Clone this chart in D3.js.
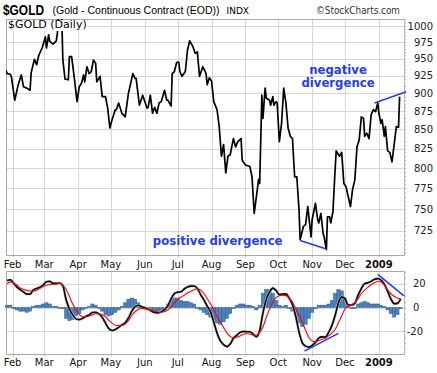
<!DOCTYPE html>
<html>
<head>
<meta charset="utf-8">
<script src="https://cdn.jsdelivr.net/npm/d3@7"></script>
<style>
body { margin: 0; background: #fff; }
svg { display: block; font-family: "DejaVu Sans", Verdana, sans-serif; }
</style>
</head>
<body>
<div id="chart"></div>
<script>
// closing prices
const priceDates = [
  "2008-01-26","2008-01-27","2008-01-30","2008-01-31","2008-02-03","2008-02-06","2008-02-09","2008-02-11","2008-02-14","2008-02-17",
  "2008-02-18","2008-02-21","2008-02-23","2008-02-25","2008-02-28","2008-03-02","2008-03-03","2008-03-05","2008-03-06","2008-03-09",
  "2008-03-12","2008-03-13","2008-03-14","2008-03-17","2008-03-18","2008-03-20","2008-03-23","2008-03-24","2008-03-26","2008-03-28",
  "2008-03-31","2008-04-02","2008-04-04","2008-04-06","2008-04-07","2008-04-09","2008-04-11","2008-04-13","2008-04-15","2008-04-17",
  "2008-04-18","2008-04-21","2008-04-23","2008-04-26","2008-04-28","2008-04-30","2008-05-02","2008-05-05","2008-05-06","2008-05-08",
  "2008-05-11","2008-05-14","2008-05-17","2008-05-21","2008-05-23","2008-05-24","2008-05-27","2008-05-30","2008-06-03","2008-06-04",
  "2008-06-06","2008-06-08","2008-06-10","2008-06-12","2008-06-14","2008-06-16","2008-06-19","2008-06-21","2008-06-22","2008-06-25",
  "2008-06-26","2008-06-28","2008-06-30","2008-07-02","2008-07-03","2008-07-05","2008-07-08","2008-07-10","2008-07-12","2008-07-15",
  "2008-07-17","2008-07-19","2008-07-21","2008-07-24","2008-07-27","2008-07-28","2008-07-30","2008-08-01","2008-08-03","2008-08-06",
  "2008-08-08","2008-08-10","2008-08-12","2008-08-14","2008-08-16","2008-08-18","2008-08-21","2008-08-23","2008-08-25","2008-08-28",
  "2008-08-29","2008-09-01","2008-09-05","2008-09-07","2008-09-09","2008-09-11","2008-09-13","2008-09-14","2008-09-16","2008-09-17",
  "2008-09-19","2008-09-20","2008-09-23","2008-09-24","2008-09-26","2008-09-27","2008-09-29","2008-09-30","2008-10-02","2008-10-04",
  "2008-10-06","2008-10-08","2008-10-10","2008-10-12","2008-10-14","2008-10-16","2008-10-18","2008-10-20","2008-10-21","2008-10-24",
  "2008-10-26","2008-10-28","2008-10-31","2008-11-01","2008-11-04","2008-11-06","2008-11-07","2008-11-09","2008-11-11","2008-11-12",
  "2008-11-14","2008-11-15","2008-11-17","2008-11-18","2008-11-20","2008-11-22","2008-11-23","2008-11-26","2008-11-28","2008-11-30",
  "2008-12-02","2008-12-04","2008-12-06","2008-12-08","2008-12-10","2008-12-12","2008-12-14","2008-12-16","2008-12-18","2008-12-19",
  "2008-12-21","2008-12-23","2008-12-25","2008-12-27","2008-12-29","2008-12-31","2009-01-01","2009-01-03","2009-01-04","2009-01-06",
  "2009-01-07","2009-01-09","2009-01-11","2009-01-13","2009-01-15","2009-01-17","2009-01-19","2009-01-20"
];
const priceClose = [
  933,928,927,923,890,911,926,909,907,904,
  929,949,941,955,966,983,966,986,976,972,
  977,989,1014,1014,948,920,919,953,953,928,
  888,909,914,926,916,938,928,931,948,943,
  916,924,895,895,879,852,863,877,877,886,
  872,867,900,928,921,921,883,897,879,880,
  897,872,880,872,886,888,904,890,890,882,
  928,931,944,945,931,924,931,963,977,968,
  958,960,924,938,928,912,922,917,888,877,
  854,815,830,794,815,817,838,827,834,838,
  810,804,802,789,745,765,786,781,897,865,
  907,893,890,883,895,883,888,886,834,858,
  907,886,852,841,838,789,789,749,715,730,
  732,753,718,738,757,738,734,745,722,718,
  704,741,741,734,747,798,822,815,820,781,
  777,765,753,774,785,827,836,867,865,841,
  845,838,870,877,874,886,872,858,863,841,
  854,822,820,808,830,854,853,895
];

// MACD panel, read every third day from 2008-01-27
const macdStart = "2008-01-27";
const macdEnd = "2009-01-22";
const macdLine = [
  22.7,23.3,20.4,17.2,15.0,13.1,11.3,11.3,14.8,16.1,
  17.1,18.9,21.7,22.0,20.4,20.3,20.6,18.3,6.6,-1.2,
  -6.1,-9.5,-10.1,-9.1,-7.4,-6.3,-4.1,-3.9,-5.3,-8.1,
  -13.0,-17.6,-19.3,-18.4,-16.6,-14.6,-12.9,-8.7,-3.2,0.8,
  2.0,0.7,-0.2,-1.4,-2.9,-4.2,-4.5,-3.6,-1.8,1.5,
  7.3,11.7,12.9,13.2,15.6,17.2,18.0,18.1,16.1,10.9,
  6.5,1.2,-3.4,-12.2,-21.4,-27.8,-31.2,-32.8,-30.6,-25.7,
  -23.3,-20.9,-20.1,-20.3,-20.3,-22.3,-24.5,-19.3,-4.4,6.8,
  12.8,16.3,14.3,10.9,11.3,11.5,7.8,2.4,-7.4,-20.4,
  -29.6,-32.4,-33.2,-31.7,-29.4,-25.7,-24.6,-24.8,-21.0,-15.2,
  -6.7,3.9,9.0,7.5,2.1,2.1,3.5,10.4,15.9,20.1,
  20.8,22.0,23.7,24.3,23.1,19.7,13.7,7.3,3.3,3.5,
  7.3
];
const signalLine = [
  20.2,21.6,20.6,18.8,16.5,15.3,14.4,13.9,13.9,14.6,
  16.1,17.6,18.7,19.4,19.5,19.7,20.3,18.6,15.4,9.3,
  2.9,-2.1,-5.6,-7.7,-7.7,-7.0,-6.1,-5.2,-5.3,-6.1,
  -7.5,-10.8,-13.1,-14.8,-15.1,-15.0,-13.7,-11.0,-6.7,-3.5,
  -1.6,-0.7,-1.1,-1.5,-2.1,-3.0,-3.7,-4.0,-3.4,-2.0,
  0.4,3.9,6.9,8.8,10.4,12.3,13.6,15.0,15.9,14.6,
  11.8,7.6,3.1,-1.7,-7.2,-12.1,-16.7,-21.3,-24.2,-25.8,
  -24.9,-23.8,-22.5,-22.0,-22.2,-23.1,-23.1,-21.0,-16.4,-8.4,
  -1.3,4.3,8.6,9.9,10.4,10.0,8.0,4.6,-0.9,-6.4,
  -12.3,-19.1,-25.2,-28.1,-28.6,-27.7,-26.7,-25.7,-23.8,-21.4,
  -18.4,-12.9,-7.1,-1.1,1.0,2.4,4.2,7.5,11.8,14.6,
  17.1,19.3,20.8,21.9,21.5,18.8,14.9,11.6,9.5,8.0,
  7.1
];
const histogram = [
  2,2,-1,-2,-3,-3,-4,-3,1,2,
  2,3,4,3,1,1,0,-1,-9,-11,
  -10,-7,-5,-2,0,1,3,2,0,-3,
  -6,-7,-6,-4,-2,1,4,7,8,7,
  4,1,-1,-2,-3,-4,-5,-4,-2,3,
  6,8,8,6,5,5,4,3,0,-2,
  -4,-6,-8,-11,-13,-14,-12,-9,-5,0,
  2,3,3,2,2,1,-2,2,12,15,
  15,12,6,2,1,2,0,-3,-7,-13,
  -16,-14,-9,-4,-1,2,2,2,3,6,
  12,15,14,8,1,0,0,3,4,5,
  4,3,3,3,2,1,-2,-5,-8,-6,
  -1
];

// tick labels
const priceTicks = [725, 750, 775, 800, 825, 850, 875, 900, 925, 950, 975, 1000];
const macdTicks = [-20, 0, 20];

// hand-drawn divergence lines: [date, value]
const priceDivergence = {
  positive: [["2008-10-21", 714], ["2008-11-14", 704.5]],
  negative: [["2008-12-28", 886], ["2009-01-26", 902]]
};
const macdDivergence = {
  positive: [["2008-10-25", -36.6], ["2008-11-25", -21.7]],
  negative: [["2008-12-31", 27.9], ["2009-01-24", 9.9]]
};

const parse = d3.timeParse("%Y-%m-%d");
const W = 437, H = 373;
const L = 6, R = 404;
const pTop = 19, pBot = 255;
const mTop = 271, mBot = 354;
const blue = "#1f3cff";
const gridColor = "#d6d6d6";
const frameColor = "#a8a8a8";

const prices = priceDates.map((d, i) => ({ date: parse(d), value: priceClose[i] }));
const macdDates = d3.timeDay.range(parse(macdStart), parse(macdEnd), 3);
const macd = macdDates.map((d, i) => ({ date: d, macd: macdLine[i], signal: signalLine[i], hist: histogram[i] }));

const svg = d3.select("#chart").append("svg")
  .attr("width", W)
  .attr("height", H);

const x = d3.scaleTime()
  .domain([parse("2008-01-26"), parse("2009-01-24")])
  .range([L, R]);

const yP = d3.scaleLog()
  .domain([698, 1011])
  .range([pBot, pTop]);

const yM = d3.scaleLinear()
  .domain([-39, 30.7])
  .range([mBot, mTop]);

const months = x.ticks(d3.timeMonth);
const monthLabel = d => d.getMonth() === 0 ? d3.timeFormat("%Y")(d) : d3.timeFormat("%b")(d);

// title
svg.append("text")
  .attr("x", 3).attr("y", 15)
  .attr("font-family", "Liberation Sans, Arial, sans-serif")
  .attr("font-weight", "bold").attr("font-size", 15)
  .attr("textLength", 41).attr("lengthAdjust", "spacingAndGlyphs")
  .text("$GOLD");
svg.append("text")
  .attr("x", 52.5).attr("y", 14)
  .attr("font-family", "Liberation Sans, Arial, sans-serif")
  .attr("font-size", 11)
  .attr("textLength", 167).attr("lengthAdjust", "spacingAndGlyphs")
  .text("(Gold - Continuous Contract (EOD))");
svg.append("text")
  .attr("x", 226.5).attr("y", 14)
  .attr("font-size", 9)
  .text("INDX");
svg.append("text")
  .attr("x", 400).attr("y", 14)
  .attr("text-anchor", "end")
  .attr("font-size", 10)
  .attr("fill", "#333")
  .attr("textLength", 84).attr("lengthAdjust", "spacingAndGlyphs")
  .text("\u00A9StockCharts.com");

// gridlines
function panelGrid(top, bottom, yScale, ticks) {
  const g = svg.append("g");
  g.selectAll(".v").data(months).enter().append("line")
    .attr("x1", d => Math.round(x(d)) + 0.5).attr("x2", d => Math.round(x(d)) + 0.5)
    .attr("y1", top).attr("y2", bottom + 3)
    .attr("stroke", gridColor);
  g.selectAll(".h").data(ticks).enter().append("line")
    .attr("x1", L).attr("x2", R)
    .attr("y1", d => Math.round(yScale(d)) + 0.5).attr("y2", d => Math.round(yScale(d)) + 0.5)
    .attr("stroke", gridColor);
  // frame
  g.append("path")
    .attr("d", `M${R + 0.5},${top + 0.5}H${L + 0.5}V${bottom + 0.5}H${R + 0.5}`)
    .attr("fill", "none").attr("stroke", frameColor);
  g.append("line")
    .attr("x1", R + 0.5).attr("x2", R + 0.5).attr("y1", top).attr("y2", bottom + 1)
    .attr("stroke", "#b8b8b8");
}
panelGrid(pTop, pBot, yP, priceTicks);
panelGrid(mTop, mBot, yM, macdTicks);

// minor ticks on the right edge
svg.append("g").selectAll("line").data(d3.range(700, 1011, 5)).enter().append("line")
  .attr("x1", R).attr("x2", R + 2)
  .attr("y1", d => Math.round(yP(d)) + 0.5).attr("y2", d => Math.round(yP(d)) + 0.5)
  .attr("stroke", "#b8b8b8");
svg.append("g").selectAll("line").data(d3.range(-35, 31, 5)).enter().append("line")
  .attr("x1", R).attr("x2", R + 2)
  .attr("y1", d => Math.round(yM(d)) + 0.5).attr("y2", d => Math.round(yM(d)) + 0.5)
  .attr("stroke", "#b8b8b8");

// right axis labels
svg.append("g").selectAll("text").data(priceTicks).enter().append("text")
  .attr("x", 433).attr("y", d => yP(d))
  .attr("dy", "0.36em").attr("text-anchor", "end")
  .attr("font-size", 10).attr("fill", "#222")
  .text(d => d);
svg.append("g").selectAll("text").data(macdTicks).enter().append("text")
  .attr("x", d => d < 0 ? 423 : 413).attr("y", d => yM(d))
  .attr("dy", "0.36em").attr("text-anchor", d => d < 0 ? "end" : "start")
  .attr("font-size", 10).attr("fill", "#222")
  .text(d => d);

// month labels under both panels
[268, 366].forEach(yy => {
  svg.append("g").selectAll("text").data(months).enter().append("text")
    .attr("x", d => x(d)).attr("y", yy)
    .attr("text-anchor", "middle")
    .attr("font-size", 10)
    .attr("font-weight", d => d.getMonth() === 0 ? "bold" : "normal")
    .attr("fill", "#111")
    .text(monthLabel);
});

// price line
svg.append("clipPath").attr("id", "clipP")
  .append("rect").attr("x", L).attr("y", pTop).attr("width", R - L).attr("height", pBot - pTop);

const priceLine = d3.line()
  .x(d => x(d.date))
  .y(d => yP(d.value));

svg.append("path")
  .datum(prices)
  .attr("clip-path", "url(#clipP)")
  .attr("d", priceLine)
  .attr("fill", "none")
  .attr("stroke", "#000")
  .attr("stroke-width", 1.7)
  .attr("stroke-linejoin", "round");

// label box
svg.append("rect").attr("x", L + 1).attr("y", pTop + 1).attr("width", 80).attr("height", 11).attr("fill", "#fff");
svg.append("text")
  .attr("x", 8).attr("y", 28)
  .attr("font-size", 11)
  .text("$GOLD (Daily)");

// MACD histogram
svg.append("g").selectAll("rect").data(macd).enter().append("rect")
  .attr("x", d => x(d.date) - 1.6)
  .attr("width", 3.2)
  .attr("y", d => yM(Math.max(0, d.hist)))
  .attr("height", d => Math.max(0.8, Math.abs(yM(d.hist) - yM(0))))
  .attr("fill", "#4a84c2")
  .attr("stroke", "#2a5888")
  .attr("stroke-width", 0.5);

const macdPath = d3.line().x(d => x(d.date)).y(d => yM(d.macd)).curve(d3.curveMonotoneX);
const signalPath = d3.line().x(d => x(d.date)).y(d => yM(d.signal)).curve(d3.curveMonotoneX);

svg.append("path").datum(macd).attr("d", macdPath)
  .attr("fill", "none").attr("stroke", "#c8c8c8").attr("stroke-width", 2.8);
svg.append("path").datum(macd).attr("d", macdPath)
  .attr("fill", "none").attr("stroke", "#000").attr("stroke-width", 1.6);
svg.append("path").datum(macd).attr("d", signalPath)
  .attr("fill", "none").attr("stroke", "#ff0000").attr("stroke-width", 1.1);

// divergence lines
function divLine(pts, yScale) {
  svg.append("line")
    .attr("x1", x(parse(pts[0][0]))).attr("y1", yScale(pts[0][1]))
    .attr("x2", x(parse(pts[1][0]))).attr("y2", yScale(pts[1][1]))
    .attr("stroke", blue).attr("stroke-width", 1.6);
}
divLine(priceDivergence.positive, yP);
divLine(priceDivergence.negative, yP);
divLine(macdDivergence.positive, yM);
divLine(macdDivergence.negative, yM);

// annotations
const note = (tx, ty, s) => svg.append("text")
  .attr("x", tx).attr("y", ty)
  .attr("text-anchor", "middle")
  .attr("font-size", 11.7).attr("font-weight", "bold")
  .attr("fill", blue)
  .text(s);
note(338, 73.5, "negative");
note(338, 87, "divergence");
note(217.7, 245, "positive divergence");
</script>
</body>
</html>
